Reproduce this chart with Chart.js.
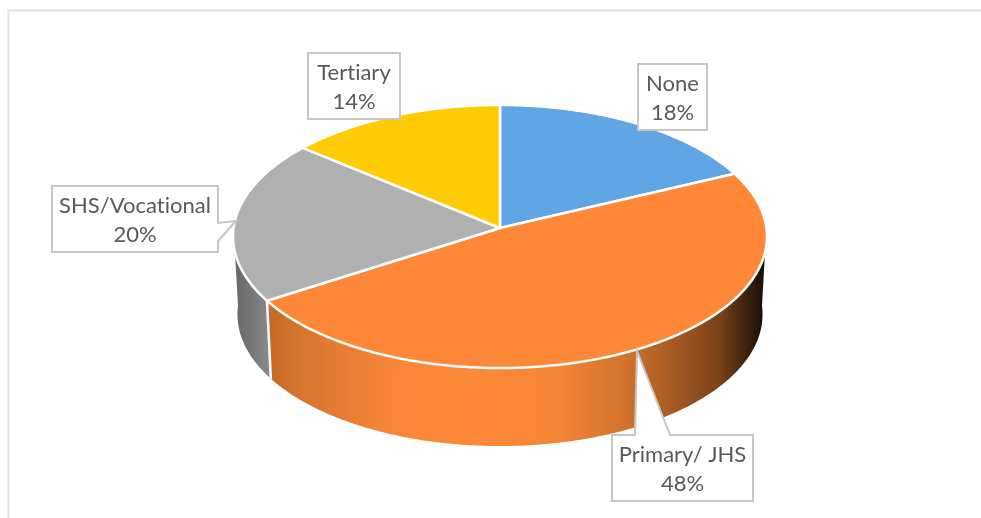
<!DOCTYPE html>
<html>
<head>
<meta charset="utf-8">
<title>Education level</title>
<script src="https://cdn.jsdelivr.net/npm/chart.js@4.4.1/dist/chart.umd.js"></script>
<style>
  html, body { margin: 0; padding: 0; background: #fff; }
  canvas { display: block; }
</style>
</head>
<body>
<canvas id="eduChart" width="981" height="518"></canvas>
<script>
// Chart data
const categories = ["None", "Primary/ JHS", "SHS/Vocational", "Tertiary"];
const shares = [18, 48, 20, 14];

// Slice colours
const topColors = ["#60a5e4", "#fe8738", "#b0b0b0", "#ffcb05"];
const wallStops = [
  null,
  [[0, "#c56a28"], [0.07, "#d97630"], [0.25, "#f98638"], [0.42, "#fd8838"], [0.58, "#f58536"],
   [0.72, "#d0722c"], [0.755, "#bf6829"], [0.905, "#7b4219"], [0.986, "#1f1107"], [1, "#140b04"]],
  [[0, "#666666"], [0.4, "#727272"], [1, "#8c8c8c"]],
  null
];
const wallRanges = [null, [270, 767], [233, 270], null];

// Callout boxes: rect, then optional pointer (base a, tip, base b) on one side of the box
const callouts = [
  { box: [638, 64, 69, 66] },
  { box: [612, 435, 141, 66], side: "top", pointer: [[670, 435], [637, 351], [635, 435]] },
  { box: [52, 186, 166, 66], side: "right", pointer: [[218, 223], [236, 221], [218, 241]] },
  { box: [308, 53, 92, 66] }
];

// Tilted disc: perspective projection of the unit circle onto the page
const cx = 500, cy = 228;
const tilt = -0.0646, halfW = 266.4, halfH = 131;
const depth = 78, bottomHalfW = 262;

function project(angle, lower) {
  const u = Math.cos(angle), v = Math.sin(angle);
  const w = 1 + tilt * v;
  return {
    x: cx + (lower ? bottomHalfW : halfW) * u / w,
    y: cy + halfH * v / w + (lower ? depth : 0)
  };
}

function traceRing(ctx, from, to, lower, move) {
  const steps = Math.max(2, Math.ceil(Math.abs(to - from) / 0.01));
  for (let i = 0; i <= steps; i++) {
    const p = project(from + (to - from) * i / steps, lower);
    if (i === 0 && move) ctx.moveTo(p.x, p.y);
    else ctx.lineTo(p.x, p.y);
  }
}

function drawWall(ctx, arc, i) {
  const stops = wallStops[i];
  if (!stops) return;
  const from = Math.max(arc.startAngle, 0);
  const to = Math.min(arc.endAngle, Math.PI);
  if (to <= from) return;
  const [x0, x1] = wallRanges[i];
  const grad = ctx.createLinearGradient(x0, 0, x1, 0);
  stops.forEach(s => grad.addColorStop(s[0], s[1]));
  ctx.beginPath();
  traceRing(ctx, from, to, false, true);
  traceRing(ctx, to, from, true, false);
  ctx.closePath();
  ctx.fillStyle = grad;
  ctx.fill();
}

function drawTop(ctx, arc) {
  ctx.beginPath();
  ctx.moveTo(cx, cy);
  traceRing(ctx, arc.startAngle, arc.endAngle, false, false);
  ctx.closePath();
  ctx.fillStyle = arc.options.backgroundColor;
  ctx.fill();
  ctx.strokeStyle = arc.options.borderColor;
  ctx.lineWidth = arc.options.borderWidth;
  ctx.lineJoin = "round";
  ctx.stroke();
}

const tiltedPie = {
  id: "tiltedPie",
  beforeDraw(chart) {
    // thin frame along the top and left
    const ctx = chart.ctx;
    ctx.save();
    ctx.strokeStyle = "#e0e0e0";
    ctx.lineWidth = 2;
    ctx.beginPath();
    ctx.moveTo(8.5, 518);
    ctx.lineTo(8.5, 10.5);
    ctx.lineTo(981, 10.5);
    ctx.stroke();
    ctx.restore();
  },
  beforeDatasetDraw(chart, args) {
    const ctx = chart.ctx;
    const arcs = chart.getDatasetMeta(args.index).data;
    ctx.save();
    arcs.forEach((arc, i) => drawWall(ctx, arc, i));
    // white seam where the orange and grey walls meet
    const seam = arcs[1].endAngle;
    const a = project(seam, false), b = project(seam, true);
    ctx.strokeStyle = "#ffffff";
    ctx.lineWidth = 2.5;
    ctx.beginPath();
    ctx.moveTo(a.x, a.y);
    ctx.lineTo(b.x, b.y);
    ctx.stroke();
    arcs.forEach(arc => drawTop(ctx, arc));
    ctx.restore();
    return false;
  },
  afterDraw(chart) {
    const ctx = chart.ctx;
    ctx.save();
    callouts.forEach((c, i) => {
      const [x, y, w, h] = c.box;
      ctx.beginPath();
      ctx.moveTo(x, y);
      if (c.side === "top") c.pointer.slice().reverse().forEach(p => ctx.lineTo(p[0], p[1]));
      ctx.lineTo(x + w, y);
      if (c.side === "right") c.pointer.forEach(p => ctx.lineTo(p[0], p[1]));
      ctx.lineTo(x + w, y + h);
      ctx.lineTo(x, y + h);
      ctx.closePath();
      ctx.fillStyle = "#ffffff";
      ctx.fill();
      ctx.strokeStyle = "#c6c6c6";
      ctx.lineWidth = 2;
      ctx.lineJoin = "miter";
      ctx.stroke();

      ctx.fillStyle = "#595959";
      ctx.font = "22px Lato, sans-serif";
      // any non-zero spacing turns off Lato's "ti" ligature
      ctx.letterSpacing = "0.01px";
      ctx.textAlign = "center";
      ctx.textBaseline = "middle";
      ctx.fillText(categories[i], x + w / 2, y + 20);
      ctx.fillText(shares[i] + "%", x + w / 2, y + 49);
    });
    ctx.restore();
  }
};

new Chart(document.getElementById("eduChart"), {
  type: "pie",
  data: {
    labels: categories,
    datasets: [{
      data: shares,
      backgroundColor: topColors,
      borderColor: "#ffffff",
      borderWidth: 2.5
    }]
  },
  options: {
    responsive: false,
    animation: false,
    plugins: {
      legend: { display: false },
      tooltip: { enabled: false }
    }
  },
  plugins: [tiltedPie]
});
</script>
</body>
</html>
